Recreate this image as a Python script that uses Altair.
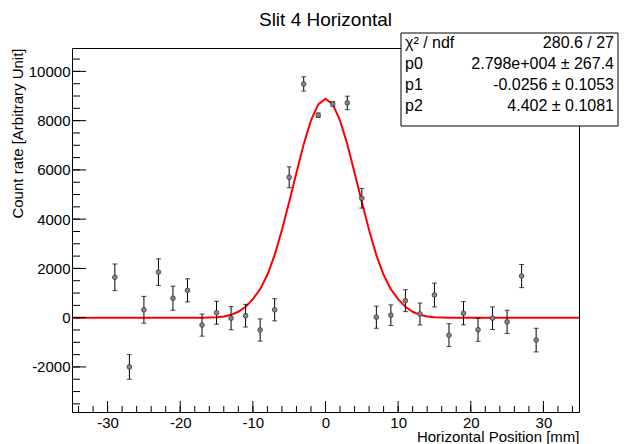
import altair as alt
import pandas as pd

# ---- data ----
x_centers = [-29, -27, -25, -23, -21, -19, -17, -15, -13, -11, -9, -7, -5, -3, -1,
             1, 3, 5, 7, 9, 11, 13, 15, 17, 19, 21, 23, 25, 27, 29]
counts = [1640, -2000, 320, 1850, 790, 1110, -300, 200, -20, 80, -500, 320, 5700, 9490, 8220,
          8680, 8720, 4850, 20, 100, 690, 150, 920, -710, 180, -490, -20, -170, 1690, -910]
errors = [540, 500, 545, 540, 490, 470, 450, 465, 470, 460, 450, 450, 425, 290, 90,
          90, 275, 400, 450, 420, 445, 445, 485, 465, 470, 470, 460, 470, 470, 480]

fit_x = list(range(-35, 36))
fit_y = [0, 0, 0, 0, 0, 0, 0, 0, 0, 0, 0, 0, 0, 0, 0, 0, 0, 0, 0,
         8, 20, 50, 115, 240, 440, 750, 1160, 1740, 2540, 3560, 4700, 5880, 7040, 8010, 8660,
         8890,
         8660, 8010, 7040, 5880, 4700, 3560, 2540, 1740, 1160, 750, 440, 240, 115, 50, 20, 8,
         0, 0, 0, 0, 0, 0, 0, 0, 0, 0, 0, 0, 0, 0, 0, 0, 0, 0, 0]

x_major = [-30, -20, -10, 0, 10, 20, 30]
x_minor = list(range(-34, 35, 2))
y_major = [-2000, 0, 2000, 4000, 6000, 8000, 10000]
y_minor = list(range(-3500, 10501, 500))

title_text = "Slit 4 Horizontal"
x_title = "Horizontal Position [mm]"
y_title = "Count rate [Arbitrary Unit]"
stat_labels = ["χ² / ndf", "p0", "p1", "p2"]
stat_values = ["280.6 / 27", "2.798e+004 ± 267.4", "-0.0256 ± 0.1053", "4.402 ± 0.1081"]

# ---- layout ----
W, H = 507, 364
FONT = "Liberation Sans"

pts = pd.DataFrame({"x": x_centers, "y": counts, "e": errors})
pts["lo"] = pts["y"] - pts["e"]
pts["hi"] = pts["y"] + pts["e"]
fit = pd.DataFrame({"x": fit_x, "y": fit_y})
one = pd.DataFrame({"a": [0]})

xs = alt.Scale(domain=[-34.9, 34.9], nice=False, zero=False)
ys = alt.Scale(domain=[-3830, 10950], nice=False, zero=False)

x_axis = alt.Axis(values=x_major, title=x_title, grid=False, ticks=False, domain=False,
                  labelFont=FONT, labelFontSize=15, labelColor="black", labelPadding=3,
                  labelExpr="'' + datum.value",
                  titleFont=FONT, titleFontSize=15, titleFontWeight="normal", titleColor="black",
                  titleAnchor="end", titleAlign="right", titleX=W, titleY=29,
                  titleBaseline="alphabetic")
y_axis = alt.Axis(values=y_major, title=y_title, grid=False, ticks=False, domain=False,
                  labelFont=FONT, labelFontSize=15, labelColor="black", labelPadding=2,
                  labelExpr="'' + datum.value",
                  titleFont=FONT, titleFontSize=15, titleFontWeight="normal", titleColor="black",
                  titleAngle=270, titleAlign="right", titleBaseline="top",
                  titleX=-62, titleY=0)

base = alt.Chart(pts)

bars = base.mark_rule(color="black", strokeWidth=1).encode(
    x=alt.X("x:Q", scale=xs, axis=x_axis),
    y=alt.Y("lo:Q", scale=ys, axis=y_axis),
    y2="hi:Q",
)
cap_lo = base.mark_tick(orient="horizontal", size=5, thickness=1, color="black").encode(
    x=alt.X("x:Q", scale=xs), y=alt.Y("lo:Q", scale=ys))
cap_hi = base.mark_tick(orient="horizontal", size=5, thickness=1, color="black").encode(
    x=alt.X("x:Q", scale=xs), y=alt.Y("hi:Q", scale=ys))
points = base.mark_point(filled=True, size=22, fill="#858585", stroke="#3a3a3a",
                         strokeWidth=0.8, opacity=1).encode(
    x=alt.X("x:Q", scale=xs), y=alt.Y("y:Q", scale=ys))

curve = alt.Chart(fit).mark_line(color="#ff0000", strokeWidth=2, clip=True).encode(
    x=alt.X("x:Q", scale=xs), y=alt.Y("y:Q", scale=ys))

def xticks(vals, length):
    return alt.Chart(pd.DataFrame({"v": vals})).mark_rule(color="black", strokeWidth=1).encode(
        x=alt.X("v:Q", scale=xs), y=alt.value(H), y2=alt.value(H - length))

def yticks(vals, length):
    return alt.Chart(pd.DataFrame({"v": vals})).mark_rule(color="black", strokeWidth=1).encode(
        y=alt.Y("v:Q", scale=ys), x=alt.value(0), x2=alt.value(length))

stat_box = alt.Chart(one).mark_rect(fill="white", stroke="black", strokeWidth=1).encode(
    x=alt.value(329), x2=alt.value(546), y=alt.value(-15), y2=alt.value(78))
stat_left = alt.Chart(one).mark_text(text=stat_labels, align="left", baseline="top",
                                     lineHeight=21.1, font=FONT, fontSize=16, color="black").encode(
    x=alt.value(333), y=alt.value(-13))
stat_right = alt.Chart(one).mark_text(text=stat_values, align="right", baseline="top",
                                      lineHeight=21.1, font=FONT, fontSize=16, color="black").encode(
    x=alt.value(542), y=alt.value(-13))
title = alt.Chart(one).mark_text(text=title_text, align="center", baseline="alphabetic",
                                 font=FONT, fontSize=19, color="black").encode(
    x=alt.value(W / 2), y=alt.value(-22))

chart = alt.layer(
    curve, bars, cap_lo, cap_hi, points,
    xticks(x_minor, 6), xticks(x_major, 11), yticks(y_minor, 8), yticks(y_major, 14),
    stat_box, stat_left, stat_right, title,
).properties(
    width=W, height=H,
    autosize=alt.AutoSizeParams(type="none"),
    padding={"left": 64, "top": 40, "right": 40, "bottom": 32},
    background="white",
).configure_view(stroke="black", strokeWidth=1)

chart.save("out.html", embed_options={"renderer": "svg", "actions": False})
